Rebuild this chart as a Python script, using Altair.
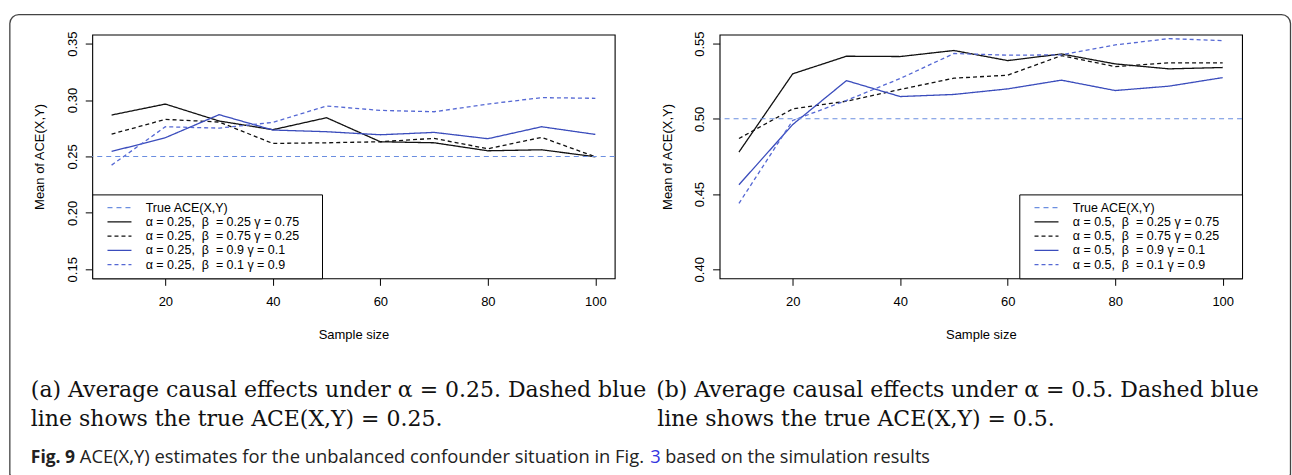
import altair as alt
import pandas as pd

NB = "\u00a0"

# Simulation grid (sample sizes) and mean ACE estimates for each setting
sample_sizes = [10, 20, 30, 40, 50, 60, 70, 80, 90, 100]

# alpha = 0.25
a25_b025 = [0.2867, 0.2964, 0.2814, 0.2737, 0.2843, 0.2630, 0.2621, 0.2550, 0.2559, 0.2497]
a25_b075 = [0.2698, 0.2828, 0.2805, 0.2615, 0.2621, 0.2630, 0.2660, 0.2568, 0.2669, 0.2497]
a25_b09 = [0.2544, 0.2666, 0.2870, 0.2734, 0.2719, 0.2692, 0.2713, 0.2657, 0.2763, 0.2695]
a25_b01 = [0.2423, 0.2763, 0.2751, 0.2802, 0.2947, 0.2908, 0.2896, 0.2964, 0.3021, 0.3015]
true_a25 = 0.25

# alpha = 0.5
a5_b025 = [0.4779, 0.5299, 0.5416, 0.5414, 0.5454, 0.5387, 0.5431, 0.5365, 0.5332, 0.5341]
a5_b075 = [0.4869, 0.5066, 0.5117, 0.5195, 0.5270, 0.5290, 0.5420, 0.5347, 0.5372, 0.5372]
a5_b09 = [0.4562, 0.4962, 0.5254, 0.5148, 0.5162, 0.5199, 0.5257, 0.5188, 0.5217, 0.5274]
a5_b01 = [0.4438, 0.4989, 0.5122, 0.5268, 0.5434, 0.5423, 0.5425, 0.5491, 0.5533, 0.5520]
true_a5 = 0.5

beta_gamma = [("0.25", "0.75"), ("0.75", "0.25"), ("0.9", "0.1"), ("0.1", "0.9")]
true_label = "True ACE(X,Y)"

x_ticks = [20, 40, 60, 80, 100]
y_ticks_a25 = [0.15, 0.20, 0.25, 0.30, 0.35]
y_ticks_a5 = [0.40, 0.45, 0.50, 0.55]

caption_a = ["(a) Average causal effects under α = 0.25. Dashed blue",
             "line shows the true ACE(X,Y) = 0.25."]
caption_b = ["(b) Average causal effects under α = 0.5. Dashed blue",
             "line shows the true ACE(X,Y) = 0.5."]
fig_caption = ["Fig. 9",
               "ACE(X,Y) estimates for the unbalanced confounder situation in Fig.",
               "3",
               "based on the simulation results"]

# Styling (order: true line, then the four settings)
COLORS = ["#6b8ee0", "#111111", "#111111", "#3a4cbc", "#5568d4"]
DASHES = [[5, 4], [1, 0], [4, 3], [1, 0], [4, 3]]
LINE_W = 1.3

SANS = "Liberation Sans"
AX_FS = 13
W, H = 523, 244
OX, OY = 91.5, 33          # plot origin of the left panel on the page
FRAME_SW = 1.3


def param_label(alpha, beta, gamma):
    return f"α{NB}={NB}{alpha},{NB}{NB}β{NB}{NB}={NB}{beta}{NB}γ{NB}={NB}{gamma}"


def build_panel(alpha, series_values, true_value, y_domain, y_ticks, orient, extra=()):
    labels = [param_label(alpha, b, g) for b, g in beta_gamma]
    domain = [true_label] + labels
    rows = []
    for lab, vals in zip(labels, series_values):
        for n, v in zip(sample_sizes, vals):
            rows.append({"n": n, "ace": v, "series": lab})
    lines_df = pd.DataFrame(rows)
    true_df = pd.DataFrame({"ace": [true_value], "series": [true_label]})

    # boxed legend; a transparent title on the right gives the box its extra width
    legend = alt.Legend(
        title="ACE", titleOrient="right", titlePadding=0, titleFontSize=7.3,
        titleOpacity=0, orient=orient, offset=0,
        fillColor="white", strokeColor="black", padding=7,
        symbolType="M0.5,0H6.5", symbolSize=64, symbolFillColor="transparent",
        symbolStrokeWidth=LINE_W,
        labelOffset=34, labelAlign="left", labelFont=SANS, labelFontSize=12.5,
        labelColor="black", labelLimit=400, rowPadding=1.25,
    )
    color = alt.Color("series:N", scale=alt.Scale(domain=domain, range=COLORS), legend=legend)
    dash = alt.StrokeDash("series:N", scale=alt.Scale(domain=domain, range=DASHES), legend=legend)

    x = alt.X("n:Q", scale=alt.Scale(domain=[6.4, 103.6], nice=False, zero=False),
              axis=alt.Axis(values=x_ticks, title="Sample size", domain=False, grid=False,
                            tickSize=7, tickColor="black", labelPadding=10,
                            labelFont=SANS, labelFontSize=AX_FS, labelColor="black",
                            labelFlush=False, labelOverlap=False,
                            titleFont=SANS, titleFontSize=AX_FS, titleFontWeight="normal",
                            titleColor="black", titleY=56, titleBaseline="middle"))
    span = y_domain[1] - y_domain[0]
    y = alt.Y("ace:Q",
              scale=alt.Scale(domain=[y_domain[0] - 0.04 * span, y_domain[1] + 0.04 * span],
                              nice=False, zero=False),
              axis=alt.Axis(values=y_ticks, format=".2f", domain=False, grid=False,
                            tickSize=7, tickColor="black", labelPadding=6,
                            labelAngle=270, labelAlign="center", labelBaseline="bottom",
                            labelFont=SANS, labelFontSize=AX_FS, labelColor="black",
                            labelFlush=False, labelOverlap=False,
                            title="Mean of ACE(X,Y)", titleFont=SANS, titleFontSize=AX_FS,
                            titleFontWeight="normal", titleColor="black",
                            titleAngle=270, titleAlign="center", titleBaseline="middle",
                            titleX=-52.5, titleY=H / 2))

    lines = alt.Chart(lines_df).mark_line(clip=True, strokeWidth=LINE_W).encode(
        x=x, y=y, color=color, strokeDash=dash)
    rule = alt.Chart(true_df).mark_rule(strokeWidth=1.1).encode(
        y=alt.Y("ace:Q"), color=color, strokeDash=dash)
    return alt.layer(*extra, lines, rule).properties(width=W, height=H)


def text_layer(txt, x, y, **style):
    return alt.Chart(pd.DataFrame({"t": [txt]})).mark_text(
        align="left", baseline="alphabetic", **style
    ).encode(x=alt.value(x), y=alt.value(y), text="t:N")


# Page frame (open at the bottom edge) and captions, placed relative to the left plot origin
frame_bottom = 474.4 - OY - FRAME_SW / 2
one = pd.DataFrame({"k": [0]})
frame = alt.Chart(one).mark_rect(
    fill="transparent", stroke="#444444", strokeWidth=FRAME_SW,
    cornerRadiusTopLeft=9, cornerRadiusTopRight=9
).encode(x=alt.value(9 - OX), x2=alt.value(1291 - OX),
         y=alt.value(13 - OY), y2=alt.value(frame_bottom))
frame_cut = alt.Chart(one).mark_rule(stroke="white", strokeWidth=FRAME_SW + 0.2).encode(
    x=alt.value(10 - OX), x2=alt.value(1290 - OX), y=alt.value(frame_bottom))

serif = dict(font="DejaVu Serif", fontSize=22, color="#111111")
sans_cap = dict(font="Open Sans", color="#222222")
captions = [
    text_layer(caption_a[0], 30 - OX, 396 - OY, **serif),
    text_layer(caption_a[1], 30 - OX, 425 - OY, **serif),
    text_layer(caption_b[0], 656 - OX, 396 - OY, **serif),
    text_layer(caption_b[1], 657 - OX, 425 - OY, **serif),
    text_layer(fig_caption[0], 30 - OX, 462 - OY, fontWeight="bold", fontSize=17.5, **sans_cap),
    text_layer(fig_caption[1], 79 - OX, 462 - OY, fontSize=18.4, **sans_cap),
    text_layer(fig_caption[2], 650 - OX, 462 - OY, font="Open Sans", fontSize=18.3, color="#3434e0"),
    text_layer(fig_caption[3], 665 - OX, 462 - OY, fontSize=18.1, **sans_cap),
]

left = build_panel("0.25", [a25_b025, a25_b075, a25_b09, a25_b01], true_a25,
                   [0.15, 0.35], y_ticks_a25, "bottom-left",
                   extra=[frame, frame_cut] + captions)
right = build_panel("0.5", [a5_b025, a5_b075, a5_b09, a5_b01], true_a5,
                    [0.40, 0.55], y_ticks_a5, "bottom-right")

chart = alt.hconcat(left, right, spacing=105, bounds="flush").resolve_scale(
    color="independent", strokeDash="independent", x="independent", y="independent"
).resolve_legend(
    color="independent", strokeDash="independent"
).properties(
    autosize=alt.AutoSizeParams(type="pad"),
    padding={"left": 9 - FRAME_SW / 2, "top": 13 - FRAME_SW / 2, "right": 0, "bottom": 0},
    background="white",
).configure_view(stroke="black", strokeWidth=1.1)

chart.save("out.html", embed_options={"renderer": "svg", "actions": False})
